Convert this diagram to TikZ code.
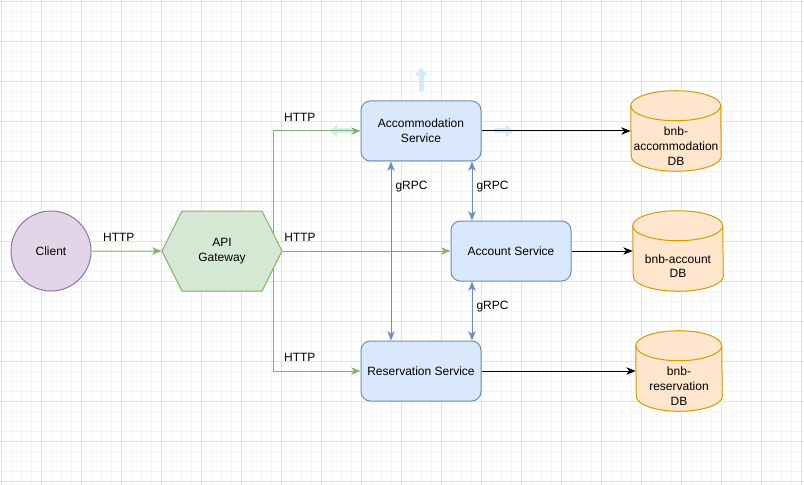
\documentclass[tikz,border=0pt]{standalone}
\usepackage{fontspec}
\setmainfont{Liberation Sans}
\usetikzlibrary{arrows.meta,shapes.geometric,shapes.symbols,positioning,calc}

\definecolor{gridmajor}{HTML}{E2E2E2}
\definecolor{gridminor}{HTML}{F4F4F4}
\definecolor{svcline}{HTML}{6C8EBF}
\definecolor{svcfill}{HTML}{DAE8FC}
\definecolor{gwline}{HTML}{82B366}
\definecolor{gwfill}{HTML}{D5E8D4}
\definecolor{clline}{HTML}{9673A6}
\definecolor{clfill}{HTML}{E1D5E7}
\definecolor{dbline}{HTML}{D79B00}
\definecolor{dbfill}{HTML}{FFE6CC}
\definecolor{hoverblue}{HTML}{D2ECFA}

\tikzset{
  svc/.style={draw=svcline, fill=svcfill, line width=0.75pt, rounded corners=7pt,
    minimum width=90pt, minimum height=45pt, align=center},
  client/.style={circle, draw=clline, fill=clfill, line width=0.75pt, minimum size=60pt},
  gateway/.style={signal, signal to=east and west, signal pointer angle=127,
    draw=gwline, fill=gwfill, line width=0.75pt, minimum width=90pt, minimum height=60pt,
    align=center},
  % body of a database, below its top cap
  dbbody/.style={minimum width=67.5pt, minimum height=37.5pt, inner sep=0pt, align=center},
  dbshape/.style={draw=dbline, fill=dbfill, line width=0.75pt},
  http/.style={draw=gwline, line width=0.75pt, -{Stealth[length=7pt,width=5.5pt,inset=2pt]}},
  grpc/.style={draw=svcline, line width=0.75pt,
    {Stealth[length=7pt,width=5.5pt,inset=2pt]}-{Stealth[length=7pt,width=5.5pt,inset=2pt]}},
  dbarrow/.style={draw=black, line width=0.75pt, -{Stealth[length=7pt,width=5.5pt,inset=2pt]}},
  hover/.style={draw=hoverblue, line width=3.75pt, -{Triangle[length=6pt,width=10pt]}},
  lbl/.style={anchor=south west, inner sep=1pt, yshift=6pt},
  glbl/.style={anchor=west, inner sep=1pt, xshift=2pt}
}

\begin{document}
\begin{tikzpicture}[x=0.75pt,y=-0.75pt,font=\fontsize{9}{11}\selectfont]
\useasboundingbox (0,0) rectangle (804,485);

% grid
\foreach \k in {0,...,80} \draw[gridminor,line width=0.75pt] (1.5+10*\k,0) -- (1.5+10*\k,485);
\foreach \k in {0,...,48} \draw[gridminor,line width=0.75pt] (0,1.5+10*\k) -- (804,1.5+10*\k);
\foreach \k in {0,...,20} \draw[gridmajor,line width=0.75pt] (1.5+40*\k,0) -- (1.5+40*\k,485);
\foreach \k in {0,...,12} \draw[gridmajor,line width=0.75pt] (0,1.5+40*\k) -- (804,1.5+40*\k);

% nodes
\node[client] (client) at (51,251) {Client};
\node[gateway] (gw) at (222,251) {API\\Gateway};
\node[svc] (acc) at (421,131) {Accommodation\\Service};
\node[svc] (acct) at (511,251) {Account Service};
\node[svc] (res) at (421,371) {Reservation Service};
\node[dbbody] (accdb) at (676,146) {};
\node[dbbody] (acctdb) at (678,266) {};
\node[dbbody, minimum width=64.5pt] (resdb) at (679,386) {};

% cylinders
\foreach \d/\r in {accdb/33.75pt, acctdb/33.75pt, resdb/32.25pt} {
  \draw[dbshape] ($(\d.north west)+(0,-15)$)
    arc[start angle=180, end angle=0, x radius=\r, y radius=11.25pt]
    -- ($(\d.south east)+(0,-15)$)
    arc[start angle=0, end angle=-180, x radius=\r, y radius=11.25pt] -- cycle;
  \draw[dbshape, fill=none] ($(\d.north west)+(0,-15)$)
    arc[start angle=180, end angle=360, x radius=\r, y radius=11.25pt];
}
\node[align=center] (accdbtext) at (accdb) {bnb-\\accommodation\\DB};
\node[align=center] (acctdbtext) at (acctdb) {bnb-account\\DB};
\node[align=center] (resdbtext) at (resdb) {bnb-\\reservation\\DB};

% hover arrows
\draw[hover] ($(acc.north)+(0,-9)$) -- ($(acc.north)+(0,-33)$);
\draw[hover] ($(acc.west)+(-9,0)$) -- ($(acc.west)+(-31,0)$);
\draw[hover] ($(acc.east)+(12,0)$) -- ($(acc.east)+(32,0)$);

\coordinate (gwup) at ($(gw.east)+(-9,-18)$);
\coordinate (gwdn) at ($(gw.east)+(-9,18)$);
\coordinate (acclft) at ($(acc.south)+(-30,0)$);
\coordinate (accrgt) at ($(acc.south)+(51,0)$);
\coordinate (acctbot) at ($(acct.south)+(-39,0)$);

% HTTP
\draw[http] (client) -- node[lbl,pos=0.14]{HTTP} (gw);
\draw[http] (gwup) |- node[lbl,pos=0.55]{HTTP} (acc.west);
\draw[http] (gw.east) -- node[lbl,pos=0]{HTTP} (acct.west);
\draw[http] (gwdn) |- node[lbl,pos=0.55]{HTTP} (res.west);

% gRPC
\draw[grpc] (acclft) -- node[glbl,pos=0.14]{gRPC} (acclft |- res.north);
\draw[grpc] (accrgt) -- node[glbl,pos=0.43]{gRPC} (accrgt |- acct.north);
\draw[grpc] (acctbot) -- node[glbl,pos=0.43]{gRPC} (acctbot |- res.north);

% databases
\draw[dbarrow] (acc.east) -- (acc.east -| accdb.west);
\draw[dbarrow] (acct.east) -- (acct.east -| acctdb.west);
\draw[dbarrow] (res.east) -- (res.east -| resdb.west);
\end{tikzpicture}
\end{document}
